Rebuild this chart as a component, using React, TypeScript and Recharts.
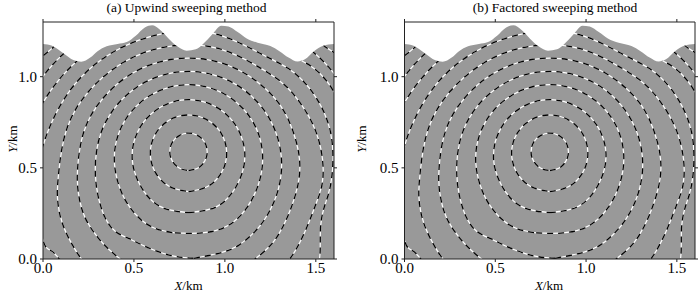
import { ComposedChart, Line, Area, XAxis, YAxis, CartesianGrid } from 'recharts';

type Pt = { x: number; y: number };
const p = (x: number, y: number): Pt => ({ x, y });

// axis ticks (km)
const xTicks = [0, 0.5, 1.0, 1.5];
const yTicks = [0, 0.5, 1.0];

// surface topography, elevation in km
const topography: Pt[] = [
  p(0, 1.18), p(0.05, 1.17), p(0.11, 1.13), p(0.17, 1.09), p(0.21, 1.082), p(0.26, 1.105),
  p(0.3, 1.14), p(0.35, 1.167), p(0.41, 1.18), p(0.46, 1.19), p(0.51, 1.225), p(0.56, 1.27),
  p(0.6, 1.282), p(0.64, 1.26), p(0.69, 1.21), p(0.74, 1.165), p(0.79, 1.142), p(0.84, 1.15),
  p(0.88, 1.18), p(0.93, 1.232), p(0.98, 1.28), p(1.02, 1.275), p(1.07, 1.245), p(1.12, 1.21),
  p(1.18, 1.186), p(1.25, 1.168), p(1.3, 1.14), p(1.35, 1.105), p(1.4, 1.083), p(1.44, 1.095),
  p(1.49, 1.14), p(1.54, 1.17), p(1.6, 1.18),
];

// traveltime contours
const t1: Pt[] = [
  p(0.8, 0.485), p(0.852, 0.499), p(0.889, 0.537), p(0.903, 0.588), p(0.889, 0.64), p(0.852, 0.677),
  p(0.8, 0.691), p(0.749, 0.677), p(0.711, 0.64), p(0.697, 0.588), p(0.711, 0.537), p(0.749, 0.499),
  p(0.8, 0.485),
];
const t2: Pt[] = [
  p(0.8, 0.37), p(0.905, 0.398), p(0.982, 0.475), p(1.01, 0.58), p(0.982, 0.685), p(0.905, 0.762),
  p(0.8, 0.79), p(0.695, 0.762), p(0.618, 0.685), p(0.59, 0.58), p(0.618, 0.475), p(0.695, 0.398),
  p(0.8, 0.37),
];
const t3: Pt[] = [
  p(0.8, 0.254), p(0.96, 0.29), p(1.068, 0.409), p(1.11, 0.564), p(1.068, 0.719), p(0.955, 0.832),
  p(0.8, 0.874), p(0.645, 0.832), p(0.532, 0.719), p(0.49, 0.564), p(0.532, 0.409), p(0.64, 0.29),
  p(0.8, 0.254),
];
const t4: Pt[] = [
  p(0.725, 0.143), p(0.875, 0.143), p(1.015, 0.182), p(1.12, 0.28), p(1.184, 0.408), p(1.208, 0.548),
  p(1.184, 0.688), p(1.113, 0.81), p(1.004, 0.901), p(0.871, 0.95), p(0.729, 0.95), p(0.596, 0.901),
  p(0.487, 0.81), p(0.416, 0.688), p(0.392, 0.548), p(0.416, 0.408), p(0.48, 0.28), p(0.59, 0.18),
  p(0.725, 0.143),
];
const t5: Pt[] = [
  p(0.83, 0.004), p(0.96, 0.03), p(1.075, 0.075), p(1.195, 0.185), p(1.281, 0.342), p(1.312, 0.517),
  p(1.281, 0.692), p(1.192, 0.846), p(1.056, 0.96), p(0.889, 1.021), p(0.711, 1.021), p(0.544, 0.96),
  p(0.408, 0.846), p(0.319, 0.692), p(0.288, 0.517), p(0.3, 0.36), p(0.34, 0.23), p(0.4, 0.15),
  p(0.478, 0.11), p(0.56, 0.07), p(0.7, 0.02), p(0.83, 0.004),
];
const t6: Pt[] = [
  p(1.1, -0.05), p(1.165, 0), p(1.269, 0.097), p(1.36, 0.27), p(1.412, 0.49), p(1.375, 0.699),
  p(1.28, 0.875), p(1.106, 1.02), p(0.906, 1.093), p(0.694, 1.093), p(0.494, 1.02), p(0.331, 0.883),
  p(0.225, 0.699), p(0.19, 0.49), p(0.195, 0.36), p(0.23, 0.23), p(0.3, 0.12), p(0.36, 0.055),
  p(0.425, 0), p(0.5, -0.05),
];
const t7: Pt[] = [
  p(1.27, -0.08), p(1.357, 0), p(1.44, 0.15), p(1.5, 0.3), p(1.54, 0.46), p(1.5, 0.7), p(1.38, 0.9),
  p(1.27, 1.0), p(1.12, 1.09), p(0.924, 1.164), p(0.676, 1.164), p(0.443, 1.079), p(0.252, 0.92),
  p(0.128, 0.705), p(0.085, 0.46), p(0.08, 0.33), p(0.105, 0.2), p(0.16, 0.08), p(0.212, 0),
  p(0.28, -0.08),
];
const t8: Pt[] = [
  p(1.48, -0.08), p(1.52, 0), p(1.525, 0.15), p(1.545, 0.28), p(1.585, 0.43), p(1.58, 0.7),
  p(1.47, 0.93), p(1.34, 1.05), p(1.19, 1.13), p(0.942, 1.236), p(0.658, 1.236), p(0.391, 1.138),
  p(0.173, 0.956), p(0.031, 0.71), p(-0.03, 0.43), p(-0.005, 0.12), p(0.045, 0.045), p(0.09, 0),
  p(0.15, -0.06),
];
const t9: Pt[] = [
  p(1.72, 0.4), p(1.66, 0.78), p(1.52, 1.02), p(1.38, 1.11), p(1.24, 1.2), p(0.96, 1.306),
  p(0.64, 1.306), p(0.34, 1.197), p(0.095, 0.992), p(-0.065, 0.715), p(-0.12, 0.4),
];
const t10: Pt[] = [
  p(1.76, 0.72), p(1.59, 1.03), p(1.31, 1.253), p(0.977, 1.375), p(0.623, 1.375), p(0.29, 1.253),
  p(0.019, 1.026), p(-0.159, 0.719),
];
const t11: Pt[] = [
  p(1.85, 0.78), p(1.7, 1.06), p(1.52, 1.2), p(1.3, 1.36), p(0.3, 1.36), p(0.08, 1.198),
  p(-0.058, 1.06), p(-0.2, 0.78),
];

const contours = [t1, t2, t3, t4, t5, t6, t7, t8, t9, t10, t11];

const serif = '"Liberation Serif", "Times New Roman", serif';
const blank = () => '';

function XTick({ x, y, payload }: any) {
  return (
    <text x={x} y={y} dy="0.71em" textAnchor="middle" fontFamily={serif} fontSize={15} fill="#000">
      {Number(payload.value).toFixed(1)}
    </text>
  );
}

function YTick({ x, y, payload }: any) {
  return (
    <text x={x} y={y} dy="0.355em" textAnchor="end" fontFamily={serif} fontSize={15} fill="#000">
      {Number(payload.value).toFixed(1)}
    </text>
  );
}

function Panel({ left, marginLeft, marginRight }: { left: number; marginLeft: number; marginRight: number }) {
  return (
    <div style={{ position: 'absolute', left, top: 0 }}>
      <ComposedChart
        width={350}
        height={295}
        margin={{ top: 18, right: marginRight, bottom: 6, left: marginLeft }}
      >
        <CartesianGrid fill="#999999" horizontal={false} vertical={false} />
        <XAxis
          type="number"
          dataKey="x"
          domain={[0, 1.6]}
          ticks={xTicks}
          allowDataOverflow
          tick={<XTick />}
          tickSize={3}
          tickMargin={0}
          height={30}
          stroke="#222"
        />
        <XAxis
          xAxisId="top"
          orientation="top"
          type="number"
          dataKey="x"
          domain={[0, 1.6]}
          ticks={xTicks}
          allowDataOverflow
          tickFormatter={blank}
          tickSize={3}
          height={4}
          stroke="#222"
        />
        <YAxis
          type="number"
          domain={[0, 1.3]}
          ticks={yTicks}
          allowDataOverflow
          tick={<YTick />}
          tickSize={3}
          tickMargin={3}
          width={30}
          stroke="#222"
        />
        <YAxis
          yAxisId="right"
          orientation="right"
          type="number"
          domain={[0, 1.3]}
          ticks={yTicks}
          allowDataOverflow
          tickFormatter={blank}
          tickSize={3}
          width={5}
          stroke="#222"
        />
        {contours.map((c, i) => (
          <Line
            key={'w' + i}
            data={c}
            dataKey="y"
            type="natural"
            stroke="#ffffff"
            strokeWidth={1.2}
            dot={false}
            activeDot={false}
            isAnimationActive={false}
          />
        ))}
        {contours.map((c, i) => (
          <Line
            key={'d' + i}
            data={c}
            dataKey="y"
            type="natural"
            stroke="#000000"
            strokeWidth={1.3}
            strokeDasharray="6 5"
            dot={false}
            activeDot={false}
            isAnimationActive={false}
          />
        ))}
        <Area
          data={topography}
          dataKey="y"
          type="monotone"
          baseValue={1.3}
          fill="#ffffff"
          fillOpacity={1}
          stroke="none"
          isAnimationActive={false}
          zIndex={450}
        />
      </ComposedChart>
    </div>
  );
}

export default function App() {
  return (
    <div style={{ position: 'absolute', left: 0, top: 0, width: 700, height: 295, background: '#fff' }}>
      <Panel left={0} marginLeft={13} marginRight={11} />
      <Panel left={350} marginLeft={24.5} marginRight={0} />
      <svg
        width={700}
        height={295}
        style={{ position: 'absolute', left: 0, top: 0, pointerEvents: 'none' }}
        fontFamily={serif}
      >
        <text x={186.5} y={12} textAnchor="middle" fontSize={13.5}>
          (a) Upwind sweeping method
        </text>
        <text x={555} y={12} textAnchor="middle" fontSize={13.5}>
          (b) Factored sweeping method
        </text>
        <text x={188.5} y={289.5} textAnchor="middle" fontSize={13}>
          <tspan fontStyle="italic">X</tspan>/km
        </text>
        <text x={549} y={289.5} textAnchor="middle" fontSize={13}>
          <tspan fontStyle="italic">X</tspan>/km
        </text>
        <text x={17} y={139} textAnchor="middle" fontSize={13} transform="rotate(-90 17 139)">
          <tspan fontStyle="italic">Y</tspan>/km
        </text>
        <text x={365.5} y={139} textAnchor="middle" fontSize={13} transform="rotate(-90 365.5 139)">
          <tspan fontStyle="italic">Y</tspan>/km
        </text>
      </svg>
    </div>
  );
}
